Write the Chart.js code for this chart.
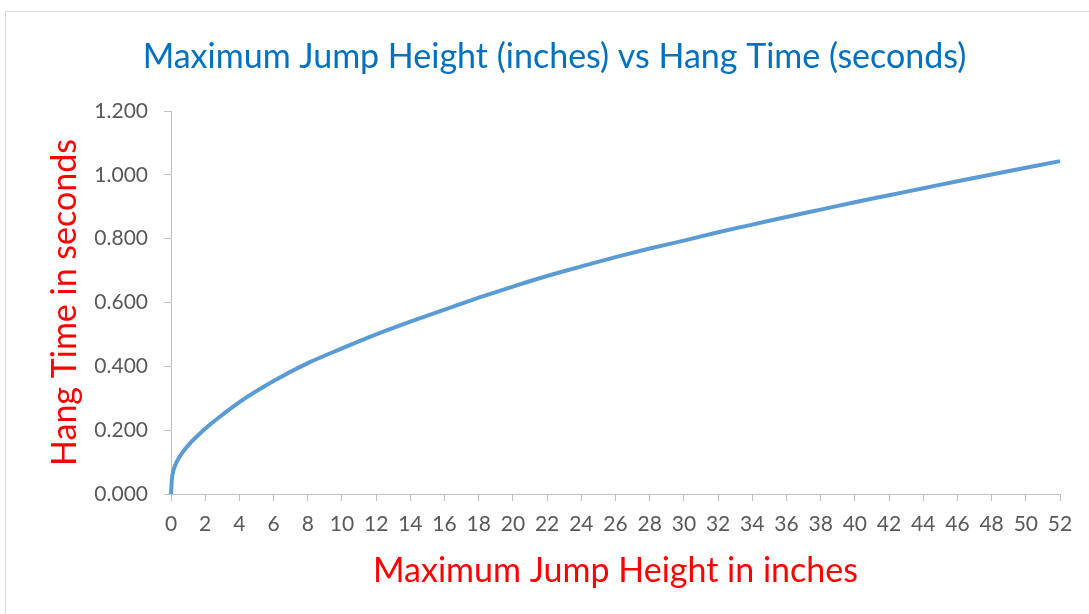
<!DOCTYPE html>
<html>
<head>
<meta charset="utf-8">
<script src="https://cdn.jsdelivr.net/npm/chart.js@4.4.1/dist/chart.umd.min.js"></script>
<style>
  html, body { margin: 0; padding: 0; background: #fff; }
  #wrap { width: 1089px; height: 614px; }
</style>
</head>
<body>
<div id="wrap"><canvas id="hang-chart" width="1089" height="614"></canvas></div>
<script>
// jump height (inches) and hang time (seconds)
const heights = [0, 0.05, 0.15, 0.33, 0.6, 1.1, 1.6, 2.2, 3, 4, 6, 8, 10, 12, 14, 16, 18,
  20, 22, 24, 26, 28, 30, 32, 34, 36, 38, 40, 42, 44, 46, 48, 50, 52];
const hangTimes = [0, 0.045, 0.075, 0.1, 0.125, 0.158, 0.185, 0.214, 0.248, 0.288, 0.354,
  0.41, 0.456, 0.5, 0.54, 0.578, 0.615, 0.65, 0.683, 0.713, 0.742, 0.769, 0.794, 0.82,
  0.844, 0.868, 0.891, 0.914, 0.936, 0.958, 0.98, 1.001, 1.022, 1.043];
const xTicks = { min: 0, max: 52, step: 2 };
const yTicks = { min: 0, max: 1.2, step: 0.2 };

const chartTitle = "Maximum Jump Height (inches) vs Hang Time (seconds)";
const xTitle = "Maximum Jump Height in inches";
const yTitle = "Hang Time in seconds";

const FONT = "Lato, 'Open Sans', sans-serif";
const axisGray = "#bfbfbf";
const tickColor = "#595959";

// outer frame + title, drawn like the excel chart box
const frame = {
  id: "frame",
  beforeDraw(chart) {
    const ctx = chart.ctx;
    ctx.save();
    ctx.fillStyle = "#fff";
    ctx.fillRect(0, 0, chart.width, chart.height);
    ctx.strokeStyle = "#d9d9d9";
    ctx.lineWidth = 1;
    ctx.strokeRect(5.5, 11.5, 1200, 700);
    ctx.restore();
  },
  afterDraw(chart) {
    const ctx = chart.ctx;
    ctx.save();
    ctx.font = "34px " + FONT;
    ctx.fillStyle = "#0070c0";
    ctx.textAlign = "center";
    ctx.textBaseline = "alphabetic";
    ctx.fillText(chartTitle, 554.5, 68);
    ctx.restore();
  },
};

new Chart(document.getElementById("hang-chart").getContext("2d"), {
  type: "scatter",
  data: {
    datasets: [
      {
        label: "Hang Time",
        data: heights.map((h, i) => ({ x: h, y: hangTimes[i] })),
        showLine: true,
        borderColor: "#5b9bd5",
        backgroundColor: "#5b9bd5",
        borderWidth: 4,
        pointRadius: 0,
        cubicInterpolationMode: "monotone",
        clip: false,
      },
    ],
  },
  options: {
    responsive: false,
    animation: false,
    layout: { padding: { top: 111, right: 29, left: 0, bottom: 0 } },
    plugins: {
      legend: { display: false },
      tooltip: { enabled: false },
    },
    scales: {
      x: {
        type: "linear",
        min: xTicks.min,
        max: xTicks.max,
        afterFit(scale) { scale.height = 120; },
        ticks: {
          stepSize: xTicks.step,
          color: tickColor,
          font: { family: FONT, size: 21 },
          padding: 11,
          maxRotation: 0,
          autoSkip: false,
        },
        grid: { drawOnChartArea: false, drawTicks: true, tickLength: 7, color: axisGray },
        border: { color: axisGray, width: 1 },
        title: {
          display: true,
          text: xTitle,
          color: "#ff0000",
          font: { family: FONT, size: 34 },
          padding: { bottom: 23 },
        },
      },
      y: {
        min: yTicks.min,
        max: yTicks.max,
        afterFit(scale) { scale.width = 171; },
        ticks: {
          stepSize: yTicks.step,
          color: tickColor,
          font: { family: FONT, size: 21 },
          padding: 16,
          callback: (v) => v.toFixed(3),
        },
        grid: { drawOnChartArea: false, drawTicks: true, tickLength: 7, color: axisGray },
        border: { color: axisGray, width: 1 },
        title: {
          display: true,
          text: yTitle,
          color: "#ff0000",
          font: { family: FONT, size: 34 },
          padding: { top: 45 },
        },
      },
    },
  },
  plugins: [frame],
});
</script>
</body>
</html>
